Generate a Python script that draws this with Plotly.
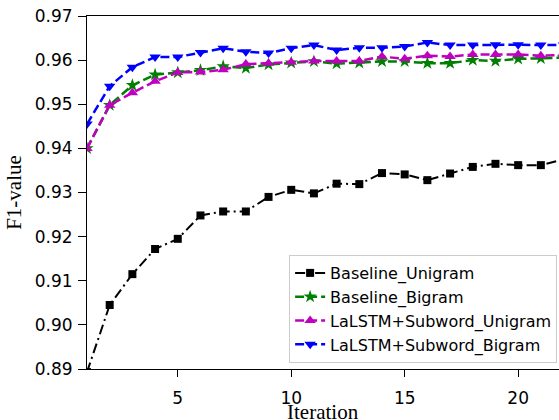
import plotly.graph_objects as go

iterations = list(range(1, 23))
baseline_unigram = [0.8893, 0.9045, 0.9115, 0.9172, 0.9195, 0.9248, 0.9257, 0.9257, 0.9290, 0.9306, 0.9298,
                    0.9320, 0.9319, 0.9344, 0.9341, 0.9328, 0.9343, 0.9358, 0.9365, 0.9362, 0.9362, 0.9375]
baseline_bigram = [0.9400, 0.9498, 0.9543, 0.9567, 0.9572, 0.9577, 0.9586, 0.9582, 0.9590, 0.9594, 0.9597,
                   0.9592, 0.9594, 0.9597, 0.9597, 0.9593, 0.9593, 0.9600, 0.9598, 0.9603, 0.9604, 0.9606]
lalstm_unigram = [0.9400, 0.9498, 0.9526, 0.9552, 0.9572, 0.9573, 0.9578, 0.9591, 0.9593, 0.9595, 0.9598,
                  0.9598, 0.9598, 0.9608, 0.9603, 0.9610, 0.9608, 0.9613, 0.9613, 0.9613, 0.9610, 0.9612]
lalstm_bigram = [0.9455, 0.9541, 0.9584, 0.9607, 0.9607, 0.9617, 0.9627, 0.9619, 0.9616, 0.9627, 0.9634,
                 0.9623, 0.9628, 0.9628, 0.9631, 0.9640, 0.9634, 0.9634, 0.9635, 0.9635, 0.9634, 0.9634]

series_names = ["Baseline_Unigram", "Baseline_Bigram", "LaLSTM+Subword_Unigram", "LaLSTM+Subword_Bigram"]
x_ticks = [5, 10, 15, 20]
y_ticks = [0.89, 0.90, 0.91, 0.92, 0.93, 0.94, 0.95, 0.96, 0.97]
x_title = "Iteration"
y_title = "F1-value"

styles = [
    dict(color="#000000", symbol="square", size=8, dash="10px,4px,2px,4px", width=2),
    dict(color="#008000", symbol="star", size=10, dash="9px,4px", width=2.5),
    dict(color="#bf00bf", symbol="triangle-up", size=10, dash="9px,4px", width=2.5),
    dict(color="#0000ff", symbol="triangle-down", size=10, dash="9px,4px", width=2.5),
]

fig = go.Figure()
for name, ys, st in zip(series_names, [baseline_unigram, baseline_bigram, lalstm_unigram, lalstm_bigram], styles):
    fig.add_trace(go.Scatter(
        x=iterations, y=ys, name=name, mode="lines+markers",
        line=dict(color=st["color"], width=st["width"], dash=st["dash"]),
        marker=dict(symbol=st["symbol"], size=st["size"], color=st["color"]),
    ))

fig.update_layout(
    width=559, height=420,
    margin=dict(l=87, r=0, t=16, b=51),
    plot_bgcolor="white", paper_bgcolor="white",
    font=dict(family="DejaVu Sans", size=17, color="black"),
    showlegend=True,
    legend=dict(
        x=0.996, y=0.017, xanchor="right", yanchor="bottom",
        bgcolor="white", bordercolor="#cccccc", borderwidth=1,
        font=dict(family="DejaVu Sans", size=16),
        tracegroupgap=0,
    ),
    annotations=[dict(
        text=x_title, xref="paper", yref="paper", x=0.5, y=-0.1218,
        xanchor="center", yanchor="middle", showarrow=False,
        font=dict(family="Liberation Serif", size=21, color="black"),
    )],
)
fig.update_xaxes(
    range=[1, 21.8], tickvals=x_ticks, ticks="outside", ticklen=7, tickcolor="black",
    showline=True, linecolor="black", linewidth=1, mirror=True, showgrid=False, zeroline=False,
    ticklabeloverflow="allow", ticklabelstandoff=7,
    automargin=False,
)
fig.update_yaxes(
    range=[0.89, 0.97], tickvals=y_ticks, tickformat=".2f", ticks="outside", ticklen=8, tickcolor="black",
    showline=True, linecolor="black", linewidth=1, mirror=False, showgrid=False, zeroline=False,
    ticklabeloverflow="allow", ticklabelstandoff=2,
    title=dict(text=y_title, font=dict(family="Liberation Serif", size=21), standoff=7),
    automargin=False,
)

fig.write_html(
    "out.html",
    config={"displayModeBar": False},
    post_script="document.body.style.margin='0';document.documentElement.style.overflow='hidden';",
)
